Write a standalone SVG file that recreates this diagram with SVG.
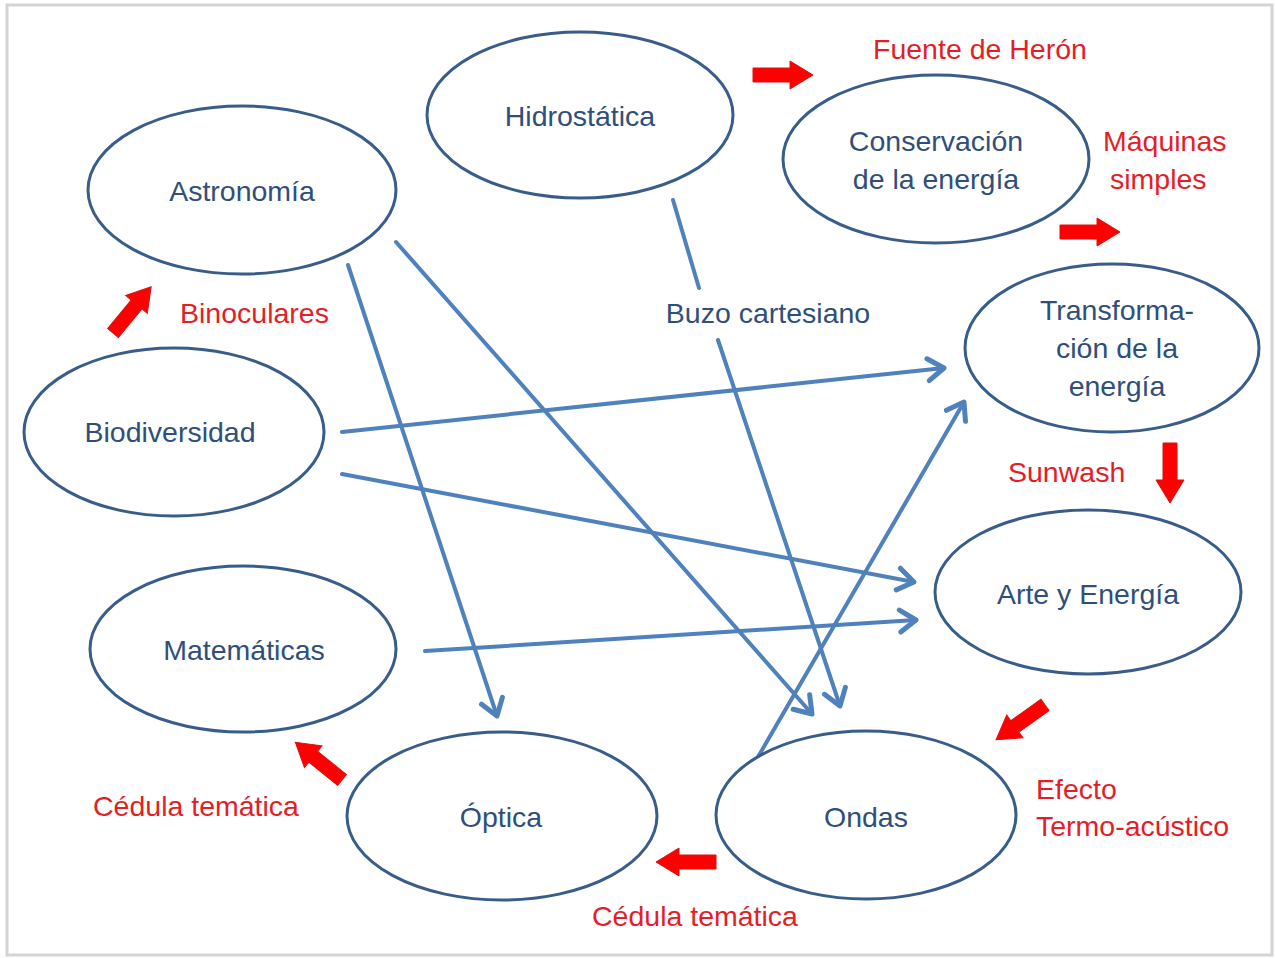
<svg xmlns="http://www.w3.org/2000/svg" xmlns:xlink="http://www.w3.org/1999/xlink" width="1275" height="958" viewBox="0 0 1275 958">
<style>
.node ellipse{fill:#ffffff;stroke:#385d8a;stroke-width:3}
.nt{font-family:"Liberation Sans",Arial,sans-serif;font-size:28.5px;fill:#2f4f7a;text-anchor:middle;dominant-baseline:central}
.rt{font-family:"Liberation Sans",Arial,sans-serif;font-size:28.5px;fill:#e41e26;text-anchor:start;dominant-baseline:central}
.conn line{stroke:#4f81bd;stroke-width:4;stroke-linecap:round;marker-end:url(#ah)}
.ra{fill:#ff0000;stroke:#e01010;stroke-width:1}
</style>
<defs>
<marker id="ah" markerUnits="userSpaceOnUse" markerWidth="30" markerHeight="30" viewBox="-20 -15 30 30" refX="0" refY="0" orient="auto">
<path d="M-16,-11 L0,0 L-16,11" fill="none" stroke="#4f81bd" stroke-width="5" stroke-linecap="round" stroke-linejoin="round"/>
</marker>
<path id="blk" d="M0,-7 L37,-7 L37,-14 L60,0 L37,14 L37,7 L0,7 Z"/>
</defs>
<rect x="0" y="0" width="1275" height="958" fill="#ffffff"/>
<rect x="7" y="5" width="1265" height="950" fill="#ffffff" stroke="#d4d4d4" stroke-width="3"/>

<g id="connectors" class="conn">
<line x1="348" y1="265" x2="497" y2="716"/>
<line x1="396" y1="242" x2="812" y2="714"/>
<line x1="673" y1="200" x2="699" y2="288" style="marker-end:none"/>
<line x1="718" y1="340" x2="840" y2="706"/>
<line x1="342" y1="432" x2="944" y2="368"/>
<line x1="342" y1="474" x2="914" y2="582"/>
<line x1="425" y1="651" x2="916" y2="620"/>
<line x1="758" y1="757" x2="964" y2="402"/>
</g>

<g id="red-arrows" class="ra">
<use xlink:href="#blk" transform="translate(753,75)"/>
<use xlink:href="#blk" transform="translate(1060,232)"/>
<use xlink:href="#blk" transform="translate(1170,443) rotate(90)"/>
<use xlink:href="#blk" transform="translate(1045,705) rotate(144.6)"/>
<use xlink:href="#blk" transform="translate(716,862) rotate(180)"/>
<use xlink:href="#blk" transform="translate(342,780) rotate(-141)"/>
<use xlink:href="#blk" transform="translate(113,333) rotate(-50.5)"/>
</g>

<g id="n-astronomia" class="node"><ellipse cx="242" cy="190" rx="154" ry="84"/><text class="nt" x="242" y="191">Astronomía</text></g>
<g id="n-hidrostatica" class="node"><ellipse cx="580" cy="115" rx="153" ry="83"/><text class="nt" x="580" y="116">Hidrostática</text></g>
<g id="n-conservacion" class="node"><ellipse cx="936" cy="159" rx="153" ry="84"/><text class="nt" x="936" y="141">Conservación</text><text class="nt" x="936" y="179">de la energía</text></g>
<g id="n-transformacion" class="node"><ellipse cx="1112" cy="348" rx="147" ry="84"/><text class="nt" x="1117" y="310">Transforma-</text><text class="nt" x="1117" y="348">ción de la</text><text class="nt" x="1117" y="386">energía</text></g>
<g id="n-biodiversidad" class="node"><ellipse cx="174" cy="432" rx="150" ry="84"/><text class="nt" x="170" y="432">Biodiversidad</text></g>
<g id="n-arte" class="node"><ellipse cx="1088" cy="592" rx="153" ry="82"/><text class="nt" x="1088" y="594">Arte y Energía</text></g>
<g id="n-matematicas" class="node"><ellipse cx="243" cy="649" rx="153" ry="83"/><text class="nt" x="244" y="650">Matemáticas</text></g>
<g id="n-optica" class="node"><ellipse cx="502" cy="816" rx="155" ry="84"/><text class="nt" x="501" y="817">Óptica</text></g>
<g id="n-ondas" class="node"><ellipse cx="866" cy="815" rx="150" ry="84"/><text class="nt" x="866" y="817">Ondas</text></g>

<g id="labels">
<text class="nt" x="768" y="313">Buzo cartesiano</text>
<text class="rt" x="873" y="49">Fuente de Herón</text>
<text class="rt" x="1103" y="141">Máquinas</text>
<text class="rt" x="1110" y="179">simples</text>
<text class="rt" x="180" y="313">Binoculares</text>
<text class="rt" x="1008" y="472">Sunwash</text>
<text class="rt" x="1036" y="789">Efecto</text>
<text class="rt" x="1036" y="826">Termo-acústico</text>
<text class="rt" x="93" y="806">Cédula temática</text>
<text class="rt" x="592" y="916">Cédula temática</text>
</g>
</svg>
